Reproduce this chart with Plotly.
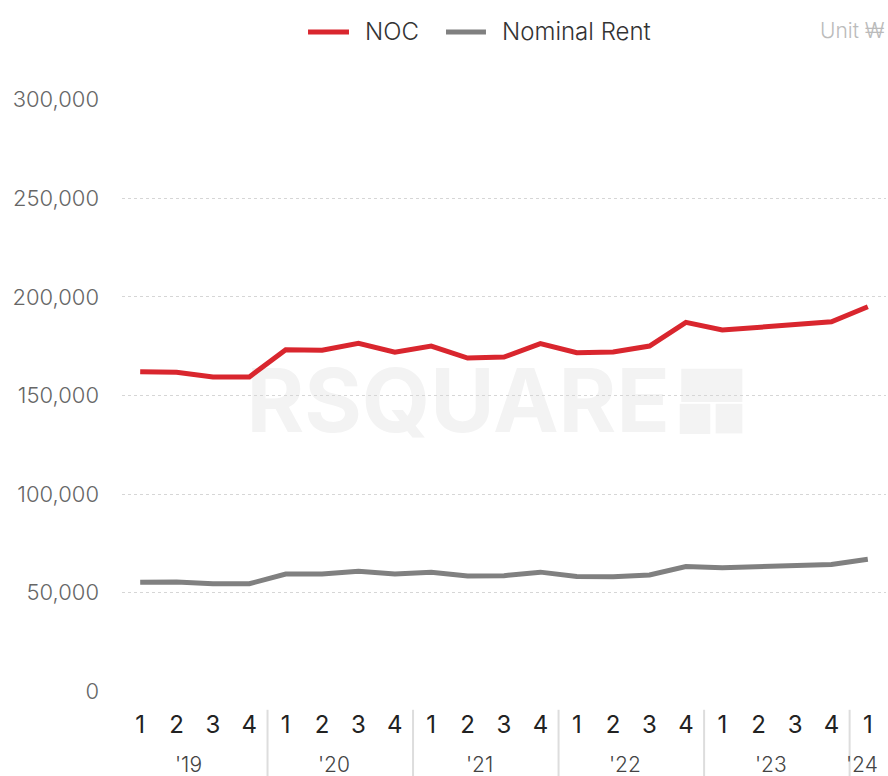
import plotly.graph_objects as go

quarters = ["1", "2", "3", "4"] * 5 + ["1"]
years = ["'19", "'20", "'21", "'22", "'23", "'24"]
year_centers = [1.5, 5.5, 9.5, 13.5, 17.5, 20]
year_dividers = [3.5, 7.5, 11.5, 15.5, 19.5]

series_names = ["NOC", "Nominal Rent"]
series_colors = ["#d9262e", "#808080"]
noc = [162000, 161800, 159400, 159400, 173200, 173000, 176500, 172000, 175100, 169000,
       169500, 176300, 171700, 172100, 175100, 187100, 183200, 184600, 185900, 187400, 195000]
nominal_rent = [55300, 55400, 54500, 54500, 59400, 59400, 60900, 59400, 60400, 58500,
                58600, 60400, 58200, 58000, 59000, 63200, 62600, 63200, 63500, 64300, 66900]

x_idx = list(range(len(quarters)))

fig = go.Figure()
for name, color, vals in zip(series_names, series_colors, [noc, nominal_rent]):
    fig.add_trace(go.Scatter(x=x_idx, y=vals, mode="lines", name=name,
                             line=dict(color=color, width=5), showlegend=False))

shapes = []
# watermark
shapes.append(dict(type="rect", xref="paper", yref="paper", x0=0.12, x1=0.76, y0=0.437, y1=0.557,
                   line=dict(width=0), fillcolor="rgba(0,0,0,0)", layer="below",
                   label=dict(text="<b>RSQUARE</b>", font=dict(family="Inter", size=88, color="#f3f3f3"),
                              textposition="middle center")))
for (a, b, c, d) in [(0.732, 0.812, 0.489, 0.545), (0.730, 0.770, 0.435, 0.486), (0.777, 0.812, 0.436, 0.486)]:
    shapes.append(dict(type="rect", xref="paper", yref="paper", x0=a, x1=b, y0=c, y1=d,
                       line=dict(width=0), fillcolor="#f3f3f3", layer="below"))
for xd in year_dividers:
    shapes.append(dict(type="line", xref="x", yref="paper", x0=xd, x1=xd, y0=-0.03, y1=-0.15,
                       line=dict(color="#dddddd", width=2)))

annotations = []
for yl, xc in zip(years, year_centers):
    annotations.append(dict(text=yl, x=xc, xref="x", y=-0.123, yref="paper", showarrow=False,
                            xshift=-6,
                            font=dict(family="Inter", size=21, color="#444444", weight=300),
                            xanchor="center", yanchor="middle"))
annotations.append(dict(text="Unit ₩", x=1.0, xref="paper", y=1.115, yref="paper", showarrow=False,
                        font=dict(family="Inter", size=21, color="#bbbbbb", weight=300),
                        xanchor="right", yanchor="middle"))

# custom legend (longer line keys than plotly's built-in legend)
legend_line_x = [(0.2435, 0.2971), (0.4241, 0.4764)]
legend_text_x = [0.3154, 0.4948]
for name, color, (lx0, lx1), tx in zip(series_names, series_colors, legend_line_x, legend_text_x):
    shapes.append(dict(type="line", xref="paper", yref="paper", x0=lx0, x1=lx1, y0=1.113, y1=1.113,
                       line=dict(color=color, width=5)))
    annotations.append(dict(text=name, x=tx, xref="paper", y=1.113, yref="paper", showarrow=False,
                            font=dict(family="Inter", size=24, color="#333333", weight=300),
                            xanchor="left", yanchor="middle"))

fig.update_layout(
    width=888, height=776,
    margin=dict(l=122, r=2, t=99, b=84),
    paper_bgcolor="white", plot_bgcolor="white",
    font=dict(family="Inter"),
    showlegend=False,
    xaxis=dict(range=[-0.5, 20.5], tickmode="array", tickvals=x_idx, ticktext=quarters,
               showgrid=False, zeroline=False, showline=False, ticks="",
               tickfont=dict(family="Inter", size=24, color="#222222"), ticklabelstandoff=16,
               fixedrange=True),
    yaxis=dict(range=[-400, 300400], tickmode="array",
               tickvals=[0, 50000, 100000, 150000, 200000, 250000, 300000],
               tickformat=",", showgrid=True, gridcolor="#d6d6d6", griddash="dot", gridwidth=1,
               zeroline=False, showline=False, ticks="",
               tickfont=dict(family="Inter", size=22, color="#666666", weight=300),
               ticklabelstandoff=22),
    shapes=shapes,
    annotations=annotations,
)

fig.write_html("out.html", config={"displayModeBar": False},
               post_script="document.body.style.margin='0';")
